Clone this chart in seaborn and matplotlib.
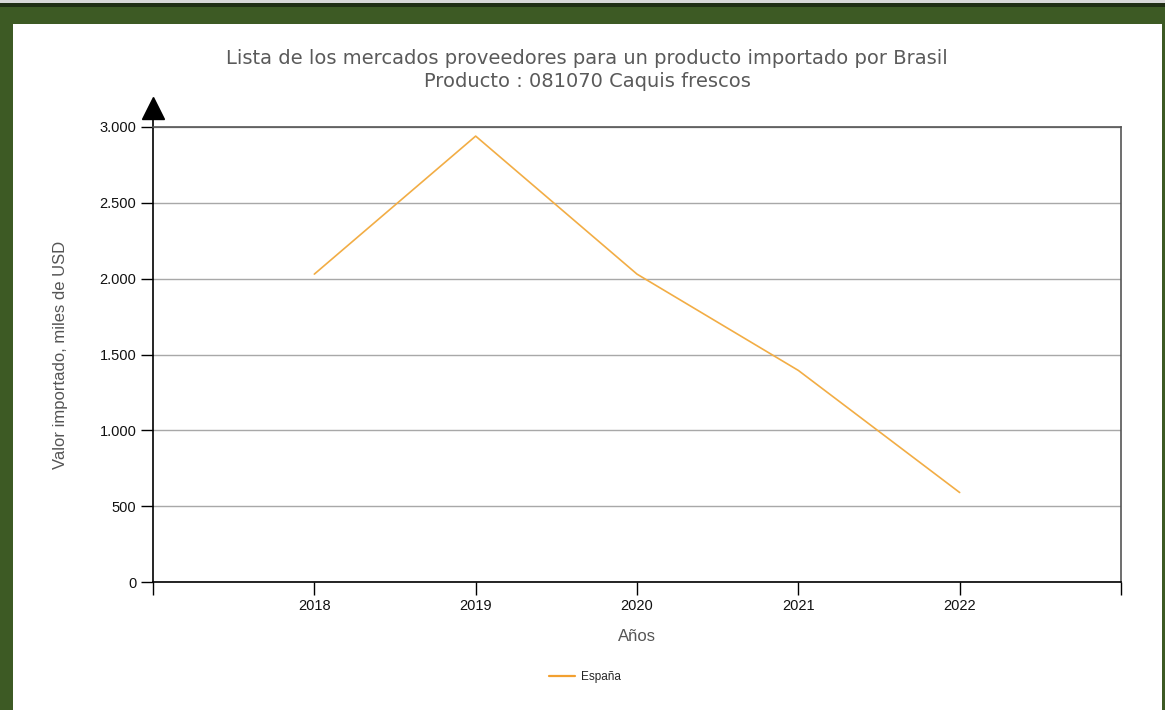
import pandas as pd
import matplotlib.pyplot as plt
import matplotlib.patches as mpatches
import matplotlib.ticker as mticker
import seaborn as sns

# data
years = [2018, 2019, 2020, 2021, 2022]
espana = [2030, 2940, 2030, 1395, 590]
series_name = "España"

title = ("Lista de los mercados proveedores para un producto importado por Brasil\n"
         "Producto : 081070 Caquis frescos")
ylabel = "Valor importado, miles de USD"
xlabel = "Años"

df = pd.DataFrame({"year": years, "value": espana, "pais": series_name})

sns.set_style("white")
plt.rcParams["font.family"] = ["Liberation Sans", "DejaVu Sans"]

fig = plt.figure(figsize=(11.65, 7.1), dpi=100)
fig.patch.set_facecolor("#3d5a24")

# white panel + dark top strip
fig.patches.append(mpatches.Rectangle((13 / 1165, 0), (1162 - 13) / 1165, (710 - 24) / 710,
                                      transform=fig.transFigure, facecolor="white",
                                      edgecolor="none", zorder=-2))
fig.patches.append(mpatches.Rectangle((0, 1 - 7 / 710), 1, 4 / 710,
                                      transform=fig.transFigure, facecolor="#1f2e14",
                                      edgecolor="none", zorder=-2))
fig.patches.append(mpatches.Rectangle((0, 1 - 3 / 710), 1, 3 / 710,
                                      transform=fig.transFigure, facecolor="#d8d8d8",
                                      edgecolor="none", zorder=-2))

ax = fig.add_axes([153 / 1165, 1 - 582 / 710, 968 / 1165, 455 / 710])
ax.set_facecolor("white")

sns.lineplot(data=df, x="year", y="value", hue="pais", palette=["#f2ad45"],
             linewidth=1.2, ax=ax, legend=False)

ax.set_xlim(2017, 2023)
ax.set_ylim(0, 3000)
ax.set_xticks(years)
ax.set_xticks([2017, 2023], minor=True)
ax.set_yticks([0, 500, 1000, 1500, 2000, 2500, 3000])
ax.yaxis.set_major_formatter(mticker.FuncFormatter(lambda v, p: f"{int(v):,}".replace(",", ".")))

ax.grid(axis="y", color="#a8a8a8", linewidth=1)
ax.set_axisbelow(True)

ax.tick_params(axis="both", which="both", direction="out", length=9, width=1,
               color="black", labelsize=10.5, labelcolor="#111111", pad=3,
               left=True, bottom=True)
ax.tick_params(axis="x", which="minor", length=9)

for s in ["left", "bottom"]:
    ax.spines[s].set_color("black")
    ax.spines[s].set_linewidth(1.2)
for s in ["top", "right"]:
    ax.spines[s].set_color("#555555")
    ax.spines[s].set_linewidth(1.2)

# arrow on top of the y axis
ax.plot([0, 0], [1, 1.03], color="black", lw=1.2, transform=ax.transAxes, clip_on=False)
ax.plot([0], [1.042], marker="^", markersize=16, color="black",
        transform=ax.transAxes, clip_on=False)

ax.set_xlabel(xlabel, fontsize=12, color="#555555", labelpad=12)
ax.set_ylabel(ylabel, fontsize=12, color="#555555", labelpad=23)

fig.text(587 / 1165, 1 - 70 / 710, title, ha="center", va="center", fontsize=14,
         color="#5a5a5a", family="DejaVu Sans", linespacing=1.3)

# legend
handle = plt.Line2D([], [], color="#f2a030", lw=1.6)
fig.legend([handle], [series_name], loc="center", bbox_to_anchor=(585 / 1165, 1 - 677 / 710),
           frameon=False, fontsize=8.5, handlelength=2.2, handletextpad=0.5)

plt.savefig("out.png", dpi=100, facecolor=fig.get_facecolor())
